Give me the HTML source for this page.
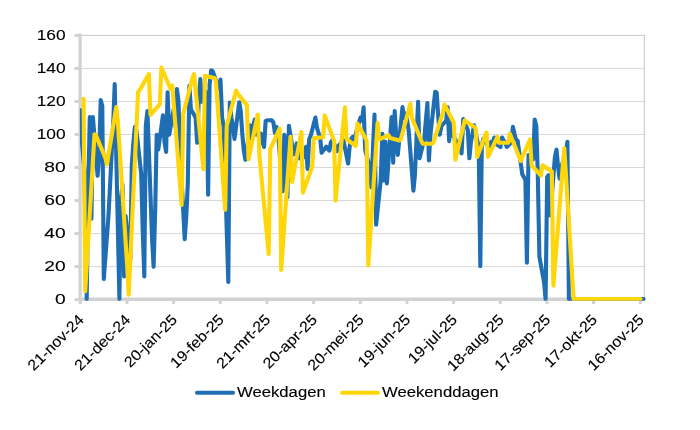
<!DOCTYPE html>
<html lang="nl">
<head>
<meta charset="utf-8">
<title>Weekdagen en weekenddagen</title>
<style>
html,body{margin:0;padding:0;background:#fff;}
body{width:700px;height:430px;overflow:hidden;}
svg{display:block;filter:blur(0.35px);}
text{font-family:"Liberation Sans", sans-serif;fill:#000;stroke:#000;stroke-width:0.12px;}
</style>
</head>
<body>
<svg width="700" height="430" viewBox="0 0 700 430">
<rect x="0" y="0" width="700" height="430" fill="#ffffff"/>
<g stroke="#d9d9d9" stroke-width="1" fill="none">
<line x1="80" y1="35.40" x2="644.3" y2="35.40" stroke="#c6c6c6"/>
<line x1="80" y1="68.43" x2="644.3" y2="68.43" stroke="#d9d9d9"/>
<line x1="80" y1="101.46" x2="644.3" y2="101.46" stroke="#d9d9d9"/>
<line x1="80" y1="134.49" x2="644.3" y2="134.49" stroke="#d9d9d9"/>
<line x1="80" y1="167.52" x2="644.3" y2="167.52" stroke="#d9d9d9"/>
<line x1="80" y1="200.55" x2="644.3" y2="200.55" stroke="#d9d9d9"/>
<line x1="80" y1="233.58" x2="644.3" y2="233.58" stroke="#d9d9d9"/>
<line x1="80" y1="266.61" x2="644.3" y2="266.61" stroke="#d9d9d9"/>
<line x1="644.3" y1="35" x2="644.3" y2="299" stroke="#c6c6c6"/>
</g>
<g stroke="#d2d2d2" fill="none">
<line x1="80.1" y1="33.5" x2="80.1" y2="300.9" stroke-width="3.3"/>
<line x1="78.5" y1="299.3" x2="644.5" y2="299.3" stroke-width="3.4"/>
<line x1="74.5" y1="35.40" x2="80" y2="35.40" stroke-width="3"/>
<line x1="74.5" y1="68.43" x2="80" y2="68.43" stroke-width="3"/>
<line x1="74.5" y1="101.46" x2="80" y2="101.46" stroke-width="3"/>
<line x1="74.5" y1="134.49" x2="80" y2="134.49" stroke-width="3"/>
<line x1="74.5" y1="167.52" x2="80" y2="167.52" stroke-width="3"/>
<line x1="74.5" y1="200.55" x2="80" y2="200.55" stroke-width="3"/>
<line x1="74.5" y1="233.58" x2="80" y2="233.58" stroke-width="3"/>
<line x1="74.5" y1="266.61" x2="80" y2="266.61" stroke-width="3"/>
<line x1="74.5" y1="299.64" x2="80" y2="299.64" stroke-width="3"/>
<line x1="80.3" y1="299" x2="80.3" y2="304" stroke-width="3"/>
<line x1="127.0" y1="299" x2="127.0" y2="304" stroke-width="3"/>
<line x1="173.6" y1="299" x2="173.6" y2="304" stroke-width="3"/>
<line x1="220.3" y1="299" x2="220.3" y2="304" stroke-width="3"/>
<line x1="267.0" y1="299" x2="267.0" y2="304" stroke-width="3"/>
<line x1="313.6" y1="299" x2="313.6" y2="304" stroke-width="3"/>
<line x1="360.3" y1="299" x2="360.3" y2="304" stroke-width="3"/>
<line x1="407.0" y1="299" x2="407.0" y2="304" stroke-width="3"/>
<line x1="453.6" y1="299" x2="453.6" y2="304" stroke-width="3"/>
<line x1="500.3" y1="299" x2="500.3" y2="304" stroke-width="3"/>
<line x1="547.0" y1="299" x2="547.0" y2="304" stroke-width="3"/>
<line x1="593.6" y1="299" x2="593.6" y2="304" stroke-width="3"/>
<line x1="640.3" y1="299" x2="640.3" y2="304" stroke-width="3"/>
</g>
<defs><clipPath id="plotclip"><rect x="79.9" y="30" width="566" height="270.7"/></clipPath></defs>
<g clip-path="url(#plotclip)">
<polyline points="80.5,110.4 82.1,143.9 84.4,170.0 86.7,299.0 88.3,183.5 89.8,117.0 91.4,218.7 92.9,117.0 97.6,175.8 99.2,155.5 100.7,100.0 102.3,106.0 103.8,279.0 108.5,215.5 110.1,184.5 111.6,154.5 113.2,124.1 114.7,84.0 119.4,299.0 120.9,200.0 122.5,184.7 124.1,276.5 125.6,216.0 130.3,260.0 131.8,165.3 133.4,142.2 134.9,126.9 136.5,130.7 141.2,173.6 142.7,229.7 144.3,276.5 145.8,125.8 147.4,111.1 152.1,239.6 153.6,266.6 155.2,209.9 156.7,134.7 158.3,149.4 162.9,115.4 164.5,142.2 166.1,151.9 167.6,92.3 169.2,134.6 173.8,108.8 175.4,126.3 176.9,89.0 178.5,101.0 180.1,150.5 184.7,239.2 186.3,216.5 187.8,183.5 189.4,85.7 190.9,109.2 195.6,117.5 197.2,142.8 198.7,101.0 200.3,79.1 201.8,101.6 206.5,92.3 208.1,194.8 209.6,84.5 211.2,70.3 212.7,71.3 217.4,84.5 218.9,88.4 220.5,79.6 222.1,117.5 223.6,125.8 228.3,281.9 229.8,102.5 231.4,117.5 232.9,125.8 234.5,139.0 239.2,102.2 240.7,110.9 242.3,134.0 243.8,150.5 245.4,159.8 250.1,125.3 251.6,138.4 253.2,127.4 254.7,119.6 256.3,134.6 260.9,133.5 262.5,142.2 264.1,147.0 265.6,121.1 267.2,120.3 271.8,120.3 273.4,122.5 274.9,132.9 276.5,126.9 278.1,134.0 282.7,191.2 284.3,134.7 285.8,142.2 287.4,197.3 288.9,125.9 293.6,154.4 295.2,152.2 296.7,143.4 298.3,152.2 299.8,158.3 304.5,157.1 306.1,146.7 307.6,168.9 309.2,139.0 310.7,135.7 315.4,117.5 316.9,127.4 318.5,133.0 320.1,137.3 321.6,152.7 326.3,146.7 327.8,148.8 329.4,150.6 330.9,142.2 332.5,140.1 337.2,151.1 338.7,145.6 340.3,143.9 341.8,142.2 343.4,140.1 348.1,163.5 349.6,147.2 351.2,139.0 352.7,136.8 354.3,139.5 358.9,122.5 360.5,117.5 362.1,120.6 363.6,107.4 365.2,150.5 369.8,167.0 371.4,187.4 372.9,150.5 374.5,114.5 376.1,224.8 380.7,180.2 382.3,133.8 383.8,180.4 385.4,141.8 386.9,183.4 391.6,117.0 393.2,162.6 394.7,111.1 396.3,137.3 397.8,154.9 402.5,107.1 404.1,118.1 405.6,113.7 407.2,120.8 408.7,130.7 413.4,190.7 414.9,175.2 416.5,139.0 418.1,101.7 419.6,158.3 424.3,139.0 425.8,120.8 427.4,103.1 428.9,160.5 430.5,134.0 435.2,91.8 436.7,92.8 438.3,117.5 439.8,134.7 441.4,125.8 446.1,120.8 447.6,107.4 449.2,141.2 450.7,122.5 452.3,134.0 456.9,142.8 458.5,142.8 460.1,140.1 461.6,153.4 463.2,119.0 467.8,130.0 469.4,158.3 470.9,142.2 472.5,134.0 474.1,125.3 478.7,147.2 480.3,266.2 481.8,145.6 483.4,138.5 484.9,142.2 489.6,146.1 491.2,141.8 492.7,142.8 494.3,137.5 495.8,143.9 500.5,147.0 502.1,137.5 503.6,140.6 505.2,142.2 506.7,147.0 511.4,142.2 512.9,126.9 514.5,134.0 516.1,139.8 517.6,140.6 522.3,174.4 523.8,176.9 525.4,180.2 526.9,262.6 528.5,155.0 533.2,159.3 534.7,119.6 536.3,125.8 537.8,175.2 539.4,256.9 544.1,282.5 545.6,299.0 547.2,176.9 548.7,175.2 550.3,215.4 554.9,157.1 556.5,149.7 558.1,167.0 559.6,178.8 561.2,167.0 565.8,153.8 567.4,141.8 568.9,299.0 570.5,299.0 572.1,299.0 576.7,299.0 578.3,299.0 579.8,299.0 581.4,299.0 582.9,299.0 587.6,299.0 589.2,299.0 590.7,299.0 592.3,299.0 593.8,299.0 598.5,299.0 600.1,299.0 601.6,299.0 603.2,299.0 604.7,299.0 609.4,299.0 610.9,299.0 612.5,299.0 614.1,299.0 615.6,299.0 620.3,299.0 621.8,299.0 623.4,299.0 624.9,299.0 626.5,299.0 631.2,299.0 632.7,299.0 634.3,299.0 635.8,299.0 637.4,299.0 642.1,299.0 643.6,299.0" fill="none" stroke="#1f6eb4" stroke-width="4.1" stroke-linejoin="round" stroke-linecap="round"/>
<polyline points="83.6,98.9 85.2,291.3 94.5,134.2 96.1,135.7 105.4,157.9 106.9,164.3 116.3,107.1 117.8,120.8 127.2,266.0 128.7,294.6 138.1,91.9 139.6,90.3 148.9,74.1 150.5,114.8 159.8,104.3 161.4,67.5 170.7,89.2 172.3,85.7 181.6,204.9 183.2,114.2 192.5,77.9 194.1,74.1 203.4,169.2 204.9,75.8 214.3,77.9 215.8,80.4 225.2,209.8 226.7,125.8 236.1,90.6 237.6,93.6 246.9,105.1 248.5,159.3 257.8,114.5 259.4,155.5 268.7,254.0 270.3,148.8 279.6,128.6 281.2,269.9 290.5,136.8 292.1,181.9 301.4,131.9 302.9,192.7 312.3,166.3 313.8,138.1 323.2,137.3 324.7,115.4 334.1,140.9 335.6,200.6 344.9,107.4 346.5,139.0 355.8,146.1 357.4,123.6 366.7,140.6 368.3,265.4 377.6,122.9 379.2,139.5 388.5,135.2 390.1,138.1 399.4,140.4 400.9,139.0 410.3,103.8 411.8,117.5 421.2,140.6 422.7,143.7 432.1,143.7 433.6,142.2 442.9,112.6 444.5,104.6 453.8,122.8 455.4,159.8 464.7,120.3 466.3,121.6 475.6,127.9 477.2,157.0 486.5,132.5 488.1,157.0 497.4,136.8 498.9,142.8 508.3,142.8 509.8,133.5 519.2,157.1 520.7,161.0 530.1,139.3 531.6,165.3 540.9,175.5 542.5,165.3 551.8,171.5 553.4,285.6 562.7,167.0 564.3,148.4 573.6,299.0 575.2,299.0 584.5,299.0 586.1,299.0 595.4,299.0 596.9,299.0 606.3,299.0 607.8,299.0 617.2,299.0 618.7,299.0 628.1,299.0 629.6,299.0 638.9,299.0 640.5,299.0" fill="none" stroke="#ffd60a" stroke-width="4.1" stroke-linejoin="round" stroke-linecap="round"/>
</g>
<g font-size="15.5" text-anchor="end" stroke="none">
<text transform="translate(65.6,39.8) scale(1.12,1)" x="0" y="0">160</text>
<text transform="translate(65.6,72.8) scale(1.12,1)" x="0" y="0">140</text>
<text transform="translate(65.6,105.9) scale(1.12,1)" x="0" y="0">120</text>
<text transform="translate(65.6,138.9) scale(1.12,1)" x="0" y="0">100</text>
<text transform="translate(65.6,171.9) scale(1.24,1)" x="0" y="0">80</text>
<text transform="translate(65.6,205.0) scale(1.24,1)" x="0" y="0">60</text>
<text transform="translate(65.6,238.0) scale(1.24,1)" x="0" y="0">40</text>
<text transform="translate(65.6,271.0) scale(1.24,1)" x="0" y="0">20</text>
<text transform="translate(65.6,304.0) scale(1.24,1)" x="0" y="0">0</text>
</g>
<g font-size="15" text-anchor="end" stroke-width="0.22">
<text transform="translate(84.7,320.6) rotate(-45) scale(1.065,1)" x="0" y="0">21-nov-24</text>
<text transform="translate(131.4,320.6) rotate(-45) scale(1.065,1)" x="0" y="0">21-dec-24</text>
<text transform="translate(178.0,320.6) rotate(-45) scale(1.065,1)" x="0" y="0">20-jan-25</text>
<text transform="translate(224.7,320.6) rotate(-45) scale(1.065,1)" x="0" y="0">19-feb-25</text>
<text transform="translate(271.4,320.6) rotate(-45) scale(1.065,1)" x="0" y="0">21-mrt-25</text>
<text transform="translate(318.0,320.6) rotate(-45) scale(1.065,1)" x="0" y="0">20-apr-25</text>
<text transform="translate(364.7,320.6) rotate(-45) scale(1.065,1)" x="0" y="0">20-mei-25</text>
<text transform="translate(411.4,320.6) rotate(-45) scale(1.065,1)" x="0" y="0">19-jun-25</text>
<text transform="translate(458.0,320.6) rotate(-45) scale(1.065,1)" x="0" y="0">19-jul-25</text>
<text transform="translate(504.7,320.6) rotate(-45) scale(1.065,1)" x="0" y="0">18-aug-25</text>
<text transform="translate(551.4,320.6) rotate(-45) scale(1.065,1)" x="0" y="0">17-sep-25</text>
<text transform="translate(598.0,320.6) rotate(-45) scale(1.065,1)" x="0" y="0">17-okt-25</text>
<text transform="translate(644.7,320.6) rotate(-45) scale(1.065,1)" x="0" y="0">16-nov-25</text>
</g>
<line x1="197" y1="392.8" x2="233" y2="392.8" stroke="#1f6eb4" stroke-width="4.1" stroke-linecap="round"/>
<text transform="translate(237,396.9) scale(1.112,1)" x="0" y="0" font-size="15">Weekdagen</text>
<line x1="342" y1="392.8" x2="378" y2="392.8" stroke="#ffd60a" stroke-width="4.1" stroke-linecap="round"/>
<text transform="translate(382,396.9) scale(1.112,1)" x="0" y="0" font-size="15">Weekenddagen</text>
</svg>
</body>
</html>
